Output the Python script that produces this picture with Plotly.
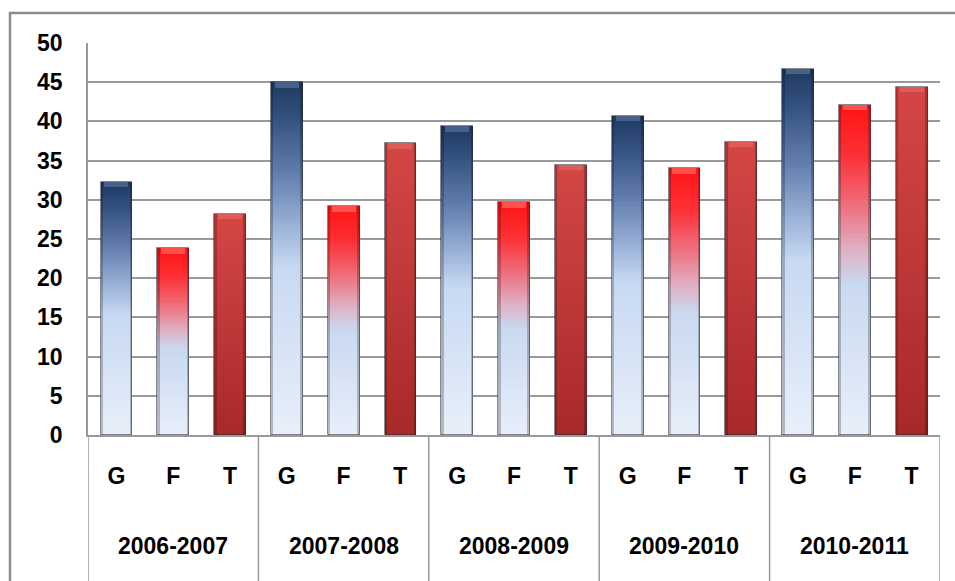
import plotly.graph_objects as go

# School years and the three indicators shown for each year
years = ["2006-2007", "2007-2008", "2008-2009", "2009-2010", "2010-2011"]
series = ["G", "F", "T"]

g_vals = [32.3, 45.0, 39.4, 40.7, 46.7]
f_vals = [23.8, 29.2, 29.7, 34.0, 42.1]
t_vals = [28.2, 37.2, 34.5, 37.4, 44.4]

y_ticks = [0, 5, 10, 15, 20, 25, 30, 35, 40, 45, 50]

FONT = "Liberation Sans Narrow, Arial Narrow, Liberation Sans, Arial, sans-serif"
FSIZE = 23
GRID = "#9a9a9a"

# vertical colour stops (0 = bottom of the bar, 1 = top)
stops_inner = {
    "G": [(0.0, (232, 239, 250)), (0.48, (199, 217, 242)), (0.58, (160, 183, 220)),
          (0.75, (96, 124, 172)), (0.9, (52, 82, 128)), (1.0, (30, 58, 98))],
    "F": [(0.0, (232, 239, 250)), (0.46, (201, 217, 240)), (0.56, (222, 178, 198)),
          (0.7, (238, 110, 124)), (0.85, (252, 48, 54)), (1.0, (255, 20, 20))],
    "T": [(0.0, (168, 40, 40)), (0.5, (190, 56, 56)), (1.0, (212, 70, 68))],
}
# lighter bevel colour at the top of each column
cap_colour = {"G": "rgb(70,96,138)", "F": "rgb(255,80,80)", "T": "rgb(222,92,88)"}


def darker(stops, k):
    return [(t, tuple(int(c * k) for c in rgb)) for t, rgb in stops]


stops_edge = {s: darker(v, 0.78) for s, v in stops_inner.items()}


def colour_at(stops, t):
    for (t0, c0), (t1, c1) in zip(stops[:-1], stops[1:]):
        if t <= t1:
            f = 0 if t1 == t0 else (t - t0) / (t1 - t0)
            rgb = [round(a + (b - a) * f) for a, b in zip(c0, c1)]
            return "rgb({},{},{})".format(*rgb)
    return "rgb({},{},{})".format(*stops[-1][1])


values = {"G": g_vals, "F": f_vals, "T": t_vals}

# one x slot per (year, indicator)
xs, vals, keys, ticktext = [], [], [], []
for gi, yr in enumerate(years):
    for si, s in enumerate(series):
        xs.append(gi * len(series) + si)
        vals.append(values[s][gi])
        keys.append(s)
        ticktext.append(s)

fig = go.Figure()

N_SLICES = 90
EPS = 0.003


def add_gradient_bars(width, stops_map):
    for k in range(N_SLICES):
        lo = k / N_SLICES
        hi = (k + 1) / N_SLICES
        bases = [max(0.0, v * lo - v * EPS) for v in vals]
        heights = [v * hi - b for v, b in zip(vals, bases)]
        colors = [colour_at(stops_map[s], (lo + hi) / 2) for s in keys]
        fig.add_trace(go.Bar(
            x=xs, y=heights, base=bases, width=width,
            marker=dict(color=colors, line=dict(width=0)),
            showlegend=False, hoverinfo="skip",
        ))


# darker rim first, then the lighter body on top of it
add_gradient_bars(0.56, stops_edge)
add_gradient_bars(0.47, stops_inner)

# bevel highlight on the top of each column
CAP = 0.7
fig.add_trace(go.Bar(
    x=xs, y=[CAP] * len(vals), base=[v - CAP for v in vals], width=0.42,
    marker=dict(color=[cap_colour[s] for s in keys], line=dict(width=0)),
    showlegend=False, hoverinfo="skip",
))

# thin outline around every column
fig.add_trace(go.Bar(
    x=xs, y=vals, width=0.56,
    marker=dict(color="rgba(0,0,0,0)", line=dict(color="rgba(40,40,55,0.55)", width=1)),
    showlegend=False, hovertemplate="%{y}<extra></extra>",
))

# group separators on the category axis
n = len(series)
for i in range(len(years) + 1):
    fig.add_shape(type="line", xref="x", yref="paper",
                  x0=i * n - 0.5, x1=i * n - 0.5, y0=0, y1=-0.40,
                  line=dict(color=GRID, width=1.5))

# year labels under each group
for gi, yr in enumerate(years):
    fig.add_annotation(x=gi * n + (n - 1) / 2, xref="x", y=-0.283, yref="paper",
                       text=yr, showarrow=False, yanchor="middle",
                       font=dict(family=FONT, size=FSIZE, color="black", weight="bold"))

# outer chart frame
fig.add_shape(type="rect", xref="paper", yref="paper",
              x0=(10 - 88) / 852, x1=(965 - 88) / 852,
              y0=(435 - 595) / 392, y1=(435 - 13) / 392,
              line=dict(color="#8c8c8c", width=2.5), fillcolor="rgba(0,0,0,0)")

fig.update_layout(
    width=955, height=581,
    margin=dict(l=88, r=15, t=43, b=146),
    paper_bgcolor="white", plot_bgcolor="white",
    barmode="overlay", bargap=0,
    showlegend=False,
)

fig.update_yaxes(
    range=[0, 50], tickvals=y_ticks, showgrid=True, gridcolor=GRID, gridwidth=2,
    showline=True, linecolor=GRID, linewidth=1.5, zeroline=False,
    ticks="", ticklabelstandoff=19,
    tickfont=dict(family=FONT, size=FSIZE, color="black", weight="bold"),
)
fig.update_xaxes(
    range=[-0.5, len(xs) - 0.5], tickvals=xs, ticktext=ticktext,
    showgrid=False, showline=True, linecolor=GRID, linewidth=1.5, zeroline=False,
    ticks="", ticklabelstandoff=20,
    tickfont=dict(family=FONT, size=FSIZE, color="black", weight="bold"),
)

fig.write_html("out.html")
